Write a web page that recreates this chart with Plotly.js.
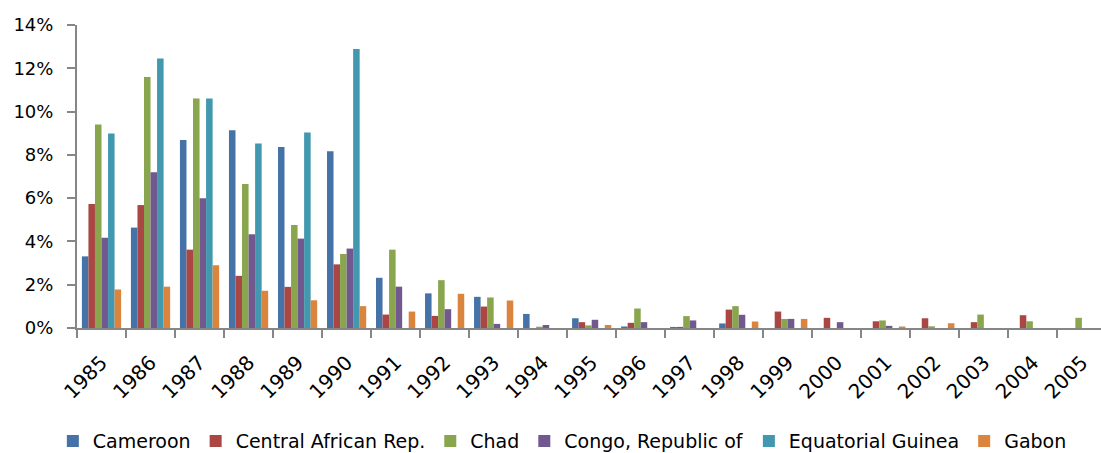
<!DOCTYPE html>
<html>
<head>
<meta charset="utf-8">
<script src="https://cdn.plot.ly/plotly-3.0.1.min.js"></script>
<style>html,body{margin:0;padding:0;background:#fff;}#chart{width:1101px;height:453px;}</style>
</head>
<body>
<div id="chart"></div>
<script>
var years = ["1985","1986","1987","1988","1989","1990","1991","1992","1993","1994","1995","1996","1997","1998","1999","2000","2001","2002","2003","2004","2005"];
var cameroon = [3.31, 4.64, 8.69, 9.14, 8.36, 8.17, 2.32, 1.60, 1.44, 0.65, 0.45, 0.07, 0.05, 0.21, 0, 0, 0, 0, 0, 0, 0];
var centralAfrican = [5.73, 5.68, 3.62, 2.41, 1.90, 2.94, 0.62, 0.56, 0.99, 0, 0.27, 0.24, 0.05, 0.85, 0.76, 0.47, 0.31, 0.45, 0.27, 0.59, 0];
var chad = [9.40, 11.6, 10.6, 6.65, 4.76, 3.42, 3.62, 2.21, 1.41, 0.06, 0.12, 0.90, 0.55, 1.01, 0.42, 0, 0.35, 0.08, 0.62, 0.31, 0.47];
var congo = [4.17, 7.20, 6.00, 4.33, 4.13, 3.67, 1.91, 0.87, 0.19, 0.14, 0.38, 0.27, 0.35, 0.61, 0.42, 0.27, 0.10, 0, 0, 0, 0];
var eqGuinea = [8.99, 12.45, 10.6, 8.52, 9.03, 12.89, 0, 0, 0, 0, 0, 0, 0, 0, 0, 0, 0, 0, 0, 0, 0];
var gabon = [1.78, 1.91, 2.90, 1.72, 1.28, 1.01, 0.76, 1.58, 1.27, 0, 0.14, 0, 0, 0.30, 0.42, 0, 0.07, 0.22, 0, 0, 0];
var seriesNames = ["Cameroon", "Central African Rep.", "Chad", "Congo, Republic of", "Equatorial Guinea", "Gabon"];
var seriesColors = ["#4572A7", "#AA4643", "#89A54E", "#71588F", "#4198AF", "#DB843D"];
var tickVals = [0, 2, 4, 6, 8, 10, 12, 14];

var allSeries = [cameroon, centralAfrican, chad, congo, eqGuinea, gabon];
var traces = allSeries.map(function (vals, i) {
  return {
    type: "bar",
    x: years,
    y: vals,
    name: seriesNames[i],
    marker: {color: seriesColors[i], line: {width: 0}},
    hoverinfo: "x+y+name"
  };
});

var font = "DejaVu Sans, Liberation Sans, sans-serif";
var layout = {
  width: 1101,
  height: 453,
  margin: {l: 77, r: 0, t: 25, b: 124.5, pad: 0},
  paper_bgcolor: "#ffffff",
  plot_bgcolor: "#ffffff",
  barmode: "group",
  bargap: 0.2,
  bargroupgap: 0,
  showlegend: true,
  legend: {
    orientation: "h",
    x: 0.048, xanchor: "left", xref: "container",
    y: 0.026, yanchor: "middle", yref: "container",
    font: {family: font, size: 19, color: "#000"},
    itemwidth: 30,
    tracegroupgap: 0
  },
  xaxis: {
    type: "category",
    range: [-0.5, 20.39],
    tickson: "boundaries",
    ticks: "outside",
    ticklen: 8,
    tickwidth: 2,
    tickcolor: "#868686",
    showline: true,
    linecolor: "#868686",
    linewidth: 2,
    showgrid: false,
    zeroline: false,
    tickangle: -45,
    tickfont: {family: font, size: 20, color: "#000"},
    ticklabelstandoff: 13,
    fixedrange: true
  },
  yaxis: {
    range: [0, 14],
    tickvals: tickVals,
    ticktext: tickVals.map(function (v) { return v + "%"; }),
    ticks: "outside",
    ticklen: 8,
    tickwidth: 2,
    tickcolor: "#868686",
    showline: true,
    linecolor: "#868686",
    linewidth: 2,
    showgrid: false,
    zeroline: false,
    tickfont: {family: font, size: 18, color: "#000"},
    ticklabelstandoff: 10,
    fixedrange: true
  }
};

Plotly.newPlot("chart", traces, layout, {displayModeBar: false, staticPlot: true});
</script>
</body>
</html>
